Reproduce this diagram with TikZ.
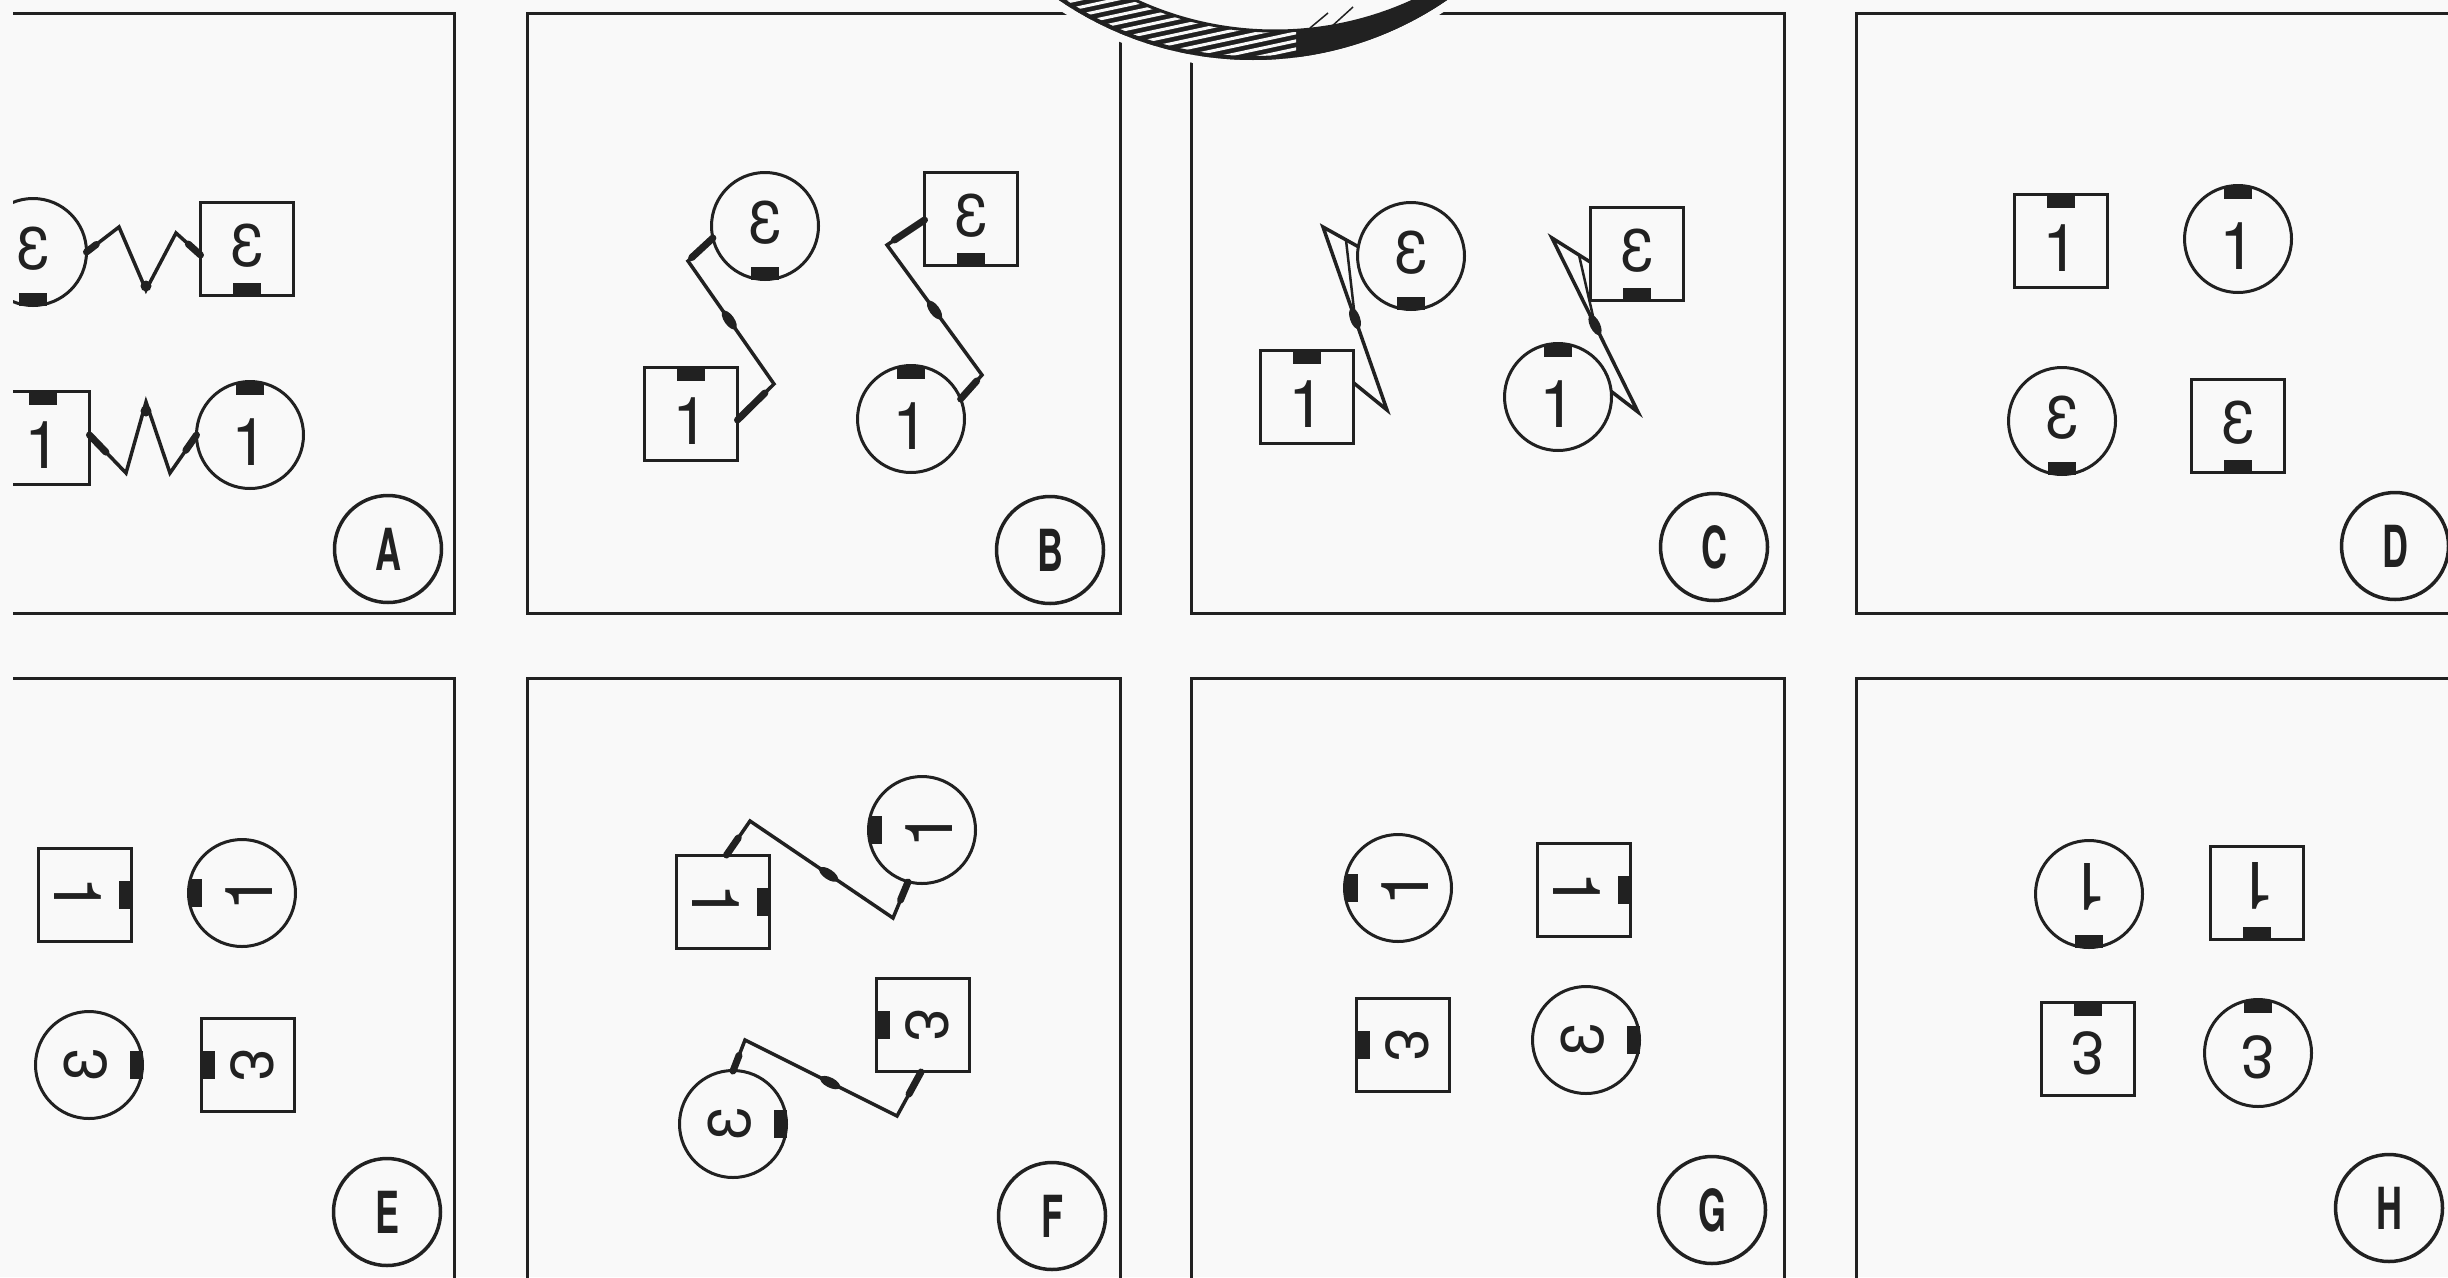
\documentclass[tikz,border=0pt]{standalone}
\usepackage{fontspec}
\usepackage{graphicx}
\setmainfont{TeX Gyre Heros}
\usetikzlibrary{calc,shapes.geometric}
\definecolor{inkc}{gray}{0.13}
\definecolor{bgc}{gray}{0.975}
\newcommand\lbl[1]{\scalebox{0.62}[1]{#1}}
\newcommand\objone[5]{%
  \node[#2,onetxt,rotate=#5] (#1) at (#3,#4) {1};
  \node[tabbox,rotate=#5,anchor=north] (#1t) at (#1.north) {};}
\newcommand\objeps[5]{%
  \node[#2,epstxt,rotate=#5] (#1) at (#3,#4) {\scalebox{-1}[1]{3}};
  \node[tabbox,rotate=#5,anchor=south] (#1t) at (#1.south) {};}
\begin{document}
\begin{tikzpicture}[x=1pt,y=-1pt,
  panelbox/.style={draw=inkc,line width=3pt,rectangle,inner sep=0pt,outer sep=0pt},
  sq/.style={draw=inkc,rectangle,line width=3pt,minimum size=93pt,inner sep=0pt,outer sep=0pt,text=inkc},
  rnd/.style={draw=inkc,circle,line width=3pt,minimum size=107pt,inner sep=0pt,outer sep=0pt,text=inkc},
  onetxt/.style={font=\fontsize{66}{66}\selectfont,text height=61pt,text depth=0pt},
  epstxt/.style={font=\fontsize{60}{60}\selectfont,text height=34pt,text depth=0pt},
  tabbox/.style={fill=inkc,rectangle,minimum width=28pt,minimum height=13pt,inner sep=0pt,outer sep=0pt},
  lab/.style={draw=inkc,circle,line width=3.5pt,minimum size=107pt,inner sep=0pt,text=inkc,
              font=\fontsize{58}{58}\selectfont\bfseries},
  wire/.style={draw=inkc,line width=3.5pt,line join=miter,miter limit=6},
  stub/.style={draw=inkc,line width=7pt,line cap=round},
  bead/.style={fill=inkc,ellipse,minimum width=22pt,minimum height=10pt,inner sep=0pt},
  dot/.style={fill=inkc,circle,minimum size=11pt,inner sep=0pt}]
\fill[bgc] (0,0) rectangle (2448,1277);
\useasboundingbox (0,0) rectangle (2448,1277);
\begin{scope}
\clip (13,0) rectangle (2448,1277);
% ---------- panels ----------
\node[panelbox,minimum width=594pt,minimum height=600pt] (pA) at (157,313) {};
\node[panelbox,minimum width=593pt,minimum height=600pt] (pB) at (823.5,313) {};
\node[panelbox,minimum width=593pt,minimum height=600pt] (pC) at (1487.5,313) {};
\node[panelbox,minimum width=594pt,minimum height=600pt] (pD) at (2153,313) {};
\node[panelbox,minimum width=594pt,minimum height=622pt] (pE) at (157,989) {};
\node[panelbox,minimum width=593pt,minimum height=622pt] (pF) at (823.5,989) {};
\node[panelbox,minimum width=593pt,minimum height=622pt] (pG) at (1487.5,989) {};
\node[panelbox,minimum width=594pt,minimum height=622pt] (pH) at (2153,989) {};
% ---------- lens rim at top ----------
\fill[bgc] (1253,-284) circle[radius=352pt];
\fill[inkc,even odd rule] (1253,-284) circle[radius=344pt] (1275,-300) circle[radius=330pt];
\begin{scope}
  \clip (1253,-284) circle[radius=344pt];
  \clip (1030,-10) rectangle (1296,90);
  \foreach \k in {0,...,24}
    \draw[bgc,line width=3pt] (1030,{-30+\k*8}) -- (1300,{-30+\k*8-58});
\end{scope}
\fill[bgc] (1275,-300) circle[radius=330pt];
\draw[inkc,line width=4pt] (1253,-284) circle[radius=342pt];
\draw[inkc,line width=3pt] (1275,-300) circle[radius=331pt];
\draw[inkc,line width=1.5pt] (1310,28) -- (1328,13);
\draw[inkc,line width=1.5pt] (1331,27) -- (1353,7);
% ---------- objects ----------
\objeps{Ae1}{rnd}{33}{252}{0}
\objeps{Ae2}{sq}{247}{249}{0}
\objone{A11}{sq}{43}{438}{0}
\objone{A12}{rnd}{250}{435}{0}
\objeps{Be1}{rnd}{765}{226}{0}
\objeps{Be2}{sq}{971}{219}{0}
\objone{B11}{sq}{691}{414}{0}
\objone{B12}{rnd}{911}{419}{0}
\objeps{Ce1}{rnd}{1411}{256}{0}
\objeps{Ce2}{sq}{1637}{254}{0}
\objone{C11}{sq}{1307}{397}{0}
\objone{C12}{rnd}{1558}{397}{0}
\objone{D11}{sq}{2061}{241}{0}
\objone{D12}{rnd}{2238}{239}{0}
\objeps{De1}{rnd}{2062}{421}{0}
\objeps{De2}{sq}{2238}{426}{0}
\objone{E11}{sq}{85}{895}{-90}
\objone{E12}{rnd}{242}{893}{90}
\objeps{Ee1}{rnd}{89}{1065}{90}
\objeps{Ee2}{sq}{248}{1065}{-90}
\objone{F11}{sq}{723}{902}{-90}
\objone{F12}{rnd}{922}{830}{90}
\objeps{Fe1}{rnd}{733}{1124}{90}
\objeps{Fe2}{sq}{923}{1025}{-90}
\objone{G11}{rnd}{1398}{888}{90}
\objone{G12}{sq}{1584}{890}{-90}
\objeps{Ge1}{sq}{1403}{1045}{-90}
\objeps{Ge2}{rnd}{1586}{1040}{90}
\objone{H11}{rnd}{2089}{894}{180}
\objone{H12}{sq}{2257}{893}{180}
\objeps{He1}{sq}{2088}{1049}{180}
\objeps{He2}{rnd}{2258}{1053}{180}
% ---------- labels ----------
\node[lab] (lA) at (388,549) {\lbl{A}};
\node[lab] (lB) at (1050,550) {\lbl{B}};
\node[lab] (lC) at (1714,547) {\lbl{C}};
\node[lab] (lD) at (2395,546) {\lbl{D}};
\node[lab] (lE) at (387,1212) {\lbl{E}};
\node[lab] (lF) at (1052,1216) {\lbl{F}};
\node[lab] (lG) at (1712,1210) {\lbl{G}};
\node[lab] (lH) at (2389,1208) {\lbl{H}};
% ---------- connectors A ----------
\coordinate (a0) at (Ae1.east);
\coordinate (a1) at (119,227);
\coordinate (a2) at (146,290);
\coordinate (a3) at (176,233);
\coordinate (a4) at ($(Ae2.west)+(0,6)$);
\draw[wire] (a0) -- (a1) -- (a2) -- (a3) -- (a4);
\draw[stub] (a4) -- ($(a4)!0.5!(a3)$);
\draw[stub] (a0) -- ($(a0)!0.3!(a1)$);
\node[dot] (ad1) at ($(a2)+(0,-4)$) {};
\coordinate (q0) at ($(A11.east)+(0,-3)$);
\coordinate (q1) at (126,473);
\coordinate (q2) at (146,402);
\coordinate (q3) at (170,473);
\coordinate (q4) at (A12.west);
\draw[wire] (q0) -- (q1) -- (q2) -- (q3) -- (q4);
\draw[stub] (q0) -- ($(q0)!0.45!(q1)$);
\draw[stub] (q4) -- ($(q4)!0.4!(q3)$);
\node[dot] (ad2) at ($(q2)+(0,9)$) {};
% ---------- connectors B ----------
\coordinate (b0) at (Be1.193);
\coordinate (b1) at (688,261);
\coordinate (b2) at (774,384);
\coordinate (b3) at ($(B11.east)+(0,6)$);
\draw[wire] (b0) -- (b1) -- (b2) -- (b3);
\draw[stub] (b0) -- ($(b0)!0.85!(b1)$);
\draw[stub] (b3) -- ($(b3)!0.75!(b2)$);
\node[bead,rotate=-55] (bb1) at ($(b1)!0.48!(b2)$) {};
\coordinate (b4) at ($(Be2.west)+(0,1)$);
\coordinate (b5) at (887,245);
\coordinate (b6) at (982,375);
\coordinate (b7) at (B12.22);
\draw[wire] (b4) -- (b5) -- (b6) -- (b7);
\draw[stub] (b4) -- ($(b4)!0.8!(b5)$);
\draw[stub] (b7) -- ($(b7)!0.75!(b6)$);
\node[bead,rotate=-54] (bb2) at ($(b5)!0.5!(b6)$) {};
% ---------- connectors C ----------
\coordinate (c0) at (Ce1.170);
\coordinate (c1) at (1323,227);
\coordinate (c2) at (1387,410);
\coordinate (c3) at (C11.17);
\coordinate (cb) at ($(c1)!0.5!(c2)$);
\draw[wire] (c0) -- (c1) -- (c2) -- (c3);
\draw[wire,line width=2.5pt] ($(c0)!0.35!(c1)$) -- (cb);
\node[bead,rotate=-71] (cb1) at (cb) {};
\coordinate (c4) at (Ce2.190);
\coordinate (c5) at (1552,238);
\coordinate (c6) at (1638,412);
\coordinate (c7) at (C12.6);
\coordinate (cc) at ($(c5)!0.5!(c6)$);
\draw[wire] (c4) -- (c5) -- (c6) -- (c7);
\draw[wire,line width=2.5pt] ($(c4)!0.3!(c5)$) -- (cc);
\node[bead,rotate=-64] (cb2) at (cc) {};
% ---------- connectors F ----------
\coordinate (f0) at ($(F11.center)+(3.5,-47)$);
\coordinate (f1) at (750,821);
\coordinate (f2) at (893,918);
\coordinate (f3) at ($(F12.center)+(-14,52)$);
\draw[wire] (f0) -- (f1) -- (f2) -- (f3);
\draw[stub] (f0) -- ($(f0)!0.5!(f1)$);
\draw[stub] (f3) -- ($(f3)!0.5!(f2)$);
\node[bead,rotate=-34] (fb1) at ($(f1)!0.55!(f2)$) {};
\coordinate (g0) at ($(Fe1.center)+(0,-53)$);
\coordinate (g1) at (745,1040);
\coordinate (g2) at (897,1116);
\coordinate (g3) at ($(Fe2.center)+(-2,47)$);
\draw[wire] (g0) -- (g1) -- (g2) -- (g3);
\draw[stub] (g0) -- ($(g0)!0.5!(g1)$);
\draw[stub] (g3) -- ($(g3)!0.5!(g2)$);
\node[bead,rotate=-27] (fb2) at ($(g1)!0.56!(g2)$) {};
\end{scope}
\end{tikzpicture}
\end{document}
